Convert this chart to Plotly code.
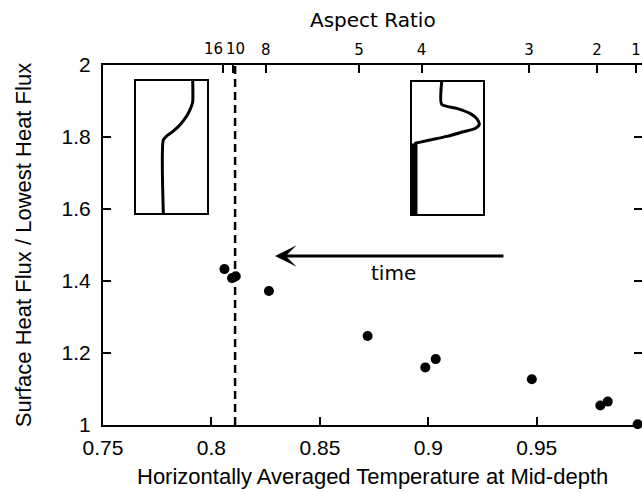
import plotly.graph_objects as go

# ---- data ----
temp_mid = [0.806, 0.8095, 0.8112, 0.8265, 0.872, 0.8986, 0.9034, 0.9477, 0.9793, 0.9827, 0.9965]
flux_ratio = [1.433, 1.408, 1.413, 1.372, 1.247, 1.160, 1.183, 1.127, 1.054, 1.065, 1.002]

x_ticks = [0.75, 0.80, 0.85, 0.90, 0.95]
x_ticktext = ["0.75", "0.8", "0.85", "0.9", "0.95"]
y_ticks = [1.0, 1.2, 1.4, 1.6, 1.8, 2.0]
y_ticktext = ["1", "1.2", "1.4", "1.6", "1.8", "2"]

# aspect-ratio ticks (top axis); the two crowded labels are drawn offset
aspect_pos = [0.8052, 0.8101, 0.8251, 0.8680, 0.8969, 0.9464, 0.9778, 0.9957]
aspect_text = ["", "", "8", "5", "4", "3", "2", "1"]
aspect_crowded_text = ["16", "10"]
aspect_crowded_label_x = [0.8011, 0.8112]

dashed_x = 0.8109

# inset profiles (normalised inset coordinates)
left_prof_x = [0.389, 0.389, 0.437, 0.507, 0.600, 0.680, 0.741, 0.783, 0.803, 0.803]
left_prof_y = [0.0, 0.553, 0.583, 0.611, 0.654, 0.705, 0.755, 0.806, 0.843, 1.0]
right_thick_x = [0.035, 0.035]
right_thick_y = [0.0, 0.535]
right_prof_x = [0.035, 0.254, 0.489, 0.723, 0.889, 0.948, 0.920, 0.817, 0.629, 0.418, 0.418]
right_prof_y = [0.535, 0.561, 0.588, 0.623, 0.648, 0.679, 0.717, 0.762, 0.800, 0.830, 1.0]

arrow_tail = (0.9353, 1.4694)
arrow_tip = (0.8293, 1.4694)
time_label = (0.8837, 1.422)

XR = [0.75, 0.9985]
SANS = "Liberation Sans"
DJV = "DejaVu Sans"

fig = go.Figure()

fig.add_trace(go.Scatter(x=[dashed_x, dashed_x], y=[1, 2], mode="lines",
                         line=dict(color="black", width=2.5, dash="8px,5px"),
                         showlegend=False, hoverinfo="skip"))
fig.add_trace(go.Scatter(x=temp_mid, y=flux_ratio, mode="markers",
                         marker=dict(color="black", size=10),
                         cliponaxis=False, showlegend=False))
# dummy trace for top axis
fig.add_trace(go.Scatter(x=[XR[0]], y=[1], xaxis="x2", mode="markers",
                         marker=dict(opacity=0), showlegend=False, hoverinfo="skip"))

# insets
fig.add_trace(go.Scatter(x=left_prof_x, y=left_prof_y, xaxis="x3", yaxis="y3", mode="lines",
                         line=dict(color="black", width=3, shape="spline", smoothing=0.6),
                         showlegend=False))
fig.add_trace(go.Scatter(x=right_thick_x, y=right_thick_y, xaxis="x4", yaxis="y4", mode="lines",
                         line=dict(color="black", width=6), showlegend=False))
fig.add_trace(go.Scatter(x=right_prof_x, y=right_prof_y, xaxis="x4", yaxis="y4", mode="lines",
                         line=dict(color="black", width=3, shape="spline", smoothing=0.6),
                         showlegend=False))

axis_common = dict(showgrid=False, zeroline=False, showline=True, linecolor="black",
                   linewidth=2, ticks="inside", ticklen=8, tickwidth=2, tickcolor="black",
                   automargin=False)
inset_axis = dict(range=[0, 1], showgrid=False, zeroline=False, showline=True, mirror=True,
                  linecolor="black", linewidth=1.5, showticklabels=False, ticks="",
                  automargin=False)

fig.update_layout(
    template="none",
    width=642, height=492,
    margin=dict(l=103, r=0, t=65, b=67, autoexpand=False),
    paper_bgcolor="white", plot_bgcolor="white",
    font=dict(family=SANS, color="black", size=18),
    xaxis=dict(range=XR, tickvals=x_ticks, ticktext=x_ticktext, mirror=False,
               tickfont=dict(family=SANS, size=21), ticklabelstandoff=3, **axis_common),
    xaxis2=dict(range=XR, overlaying="x", side="top", anchor="y", tickvals=aspect_pos,
                ticktext=aspect_text, tickfont=dict(family=DJV, size=15),
                ticklabelstandoff=2, **axis_common),
    yaxis=dict(range=[1, 2], tickvals=y_ticks, ticktext=y_ticktext, mirror="ticks",
               tickfont=dict(family=SANS, size=21), ticklabelstandoff=6, **axis_common),
    xaxis3=dict(domain=[0.0607, 0.1924], anchor="y3", **inset_axis),
    yaxis3=dict(domain=[0.589, 0.9556], anchor="x3", **inset_axis),
    xaxis4=dict(domain=[0.5733, 0.705], anchor="y4", **inset_axis),
    yaxis4=dict(domain=[0.586, 0.9528], anchor="x4", **inset_axis),
)

annotations = []
for lx, t in zip(aspect_crowded_label_x, aspect_crowded_text):
    annotations.append(dict(x=lx, y=1.0444, xref="x", yref="paper", text=t, showarrow=False,
                            font=dict(family=DJV, size=15), xanchor="center", yanchor="middle"))
annotations += [
    dict(x=0.5, y=1.125, xref="paper", yref="paper", text="Aspect Ratio", showarrow=False,
         font=dict(family=DJV, size=20), xanchor="center", yanchor="middle"),
    dict(x=0.5, y=-0.144, xref="paper", yref="paper",
         text="Horizontally Averaged Temperature at Mid-depth", showarrow=False,
         font=dict(family=SANS, size=22), xanchor="center", yanchor="middle"),
    dict(x=-0.148, y=0.5, xref="paper", yref="paper",
         text="Surface Heat Flux / Lowest Heat Flux", showarrow=False, textangle=-90,
         font=dict(family=SANS, size=22), xanchor="center", yanchor="middle"),
    dict(x=arrow_tip[0], y=arrow_tip[1], ax=arrow_tail[0], ay=arrow_tail[1],
         xref="x", yref="y", axref="x", ayref="y", text="", showarrow=True,
         arrowhead=3, arrowsize=1.2, arrowwidth=3, arrowcolor="black", standoff=0),
    dict(x=time_label[0], y=time_label[1], xref="x", yref="y", text="time", showarrow=False,
         font=dict(family=DJV, size=20), xanchor="center", yanchor="middle"),
]
fig.update_layout(annotations=annotations)

fig.write_html("out.html", config={"displayModeBar": False},
               post_script="document.body.style.margin='0';document.body.style.overflow='hidden';")
